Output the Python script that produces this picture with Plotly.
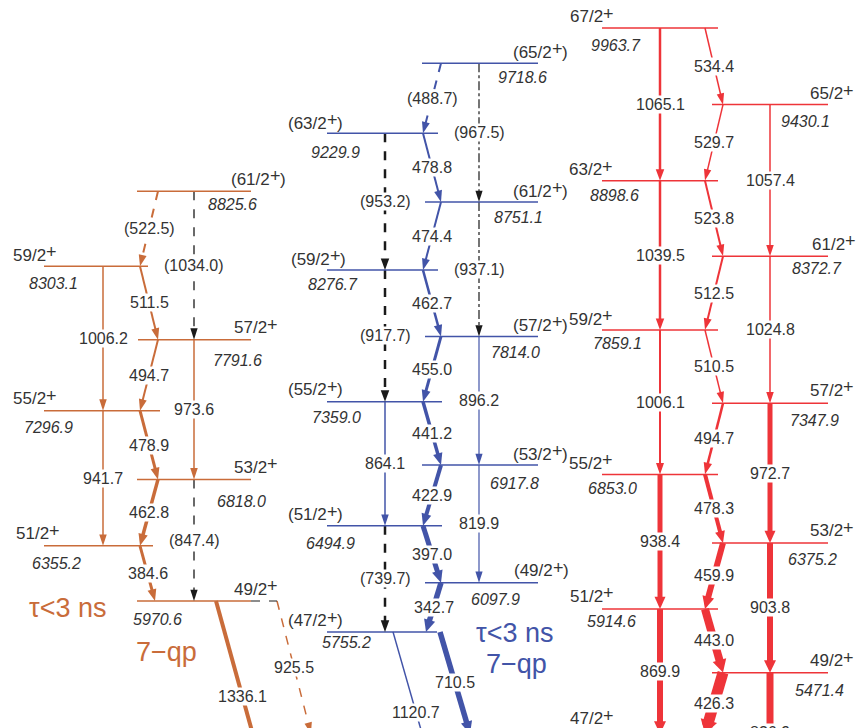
import math
import plotly.graph_objects as go

# ---------------- level energies (keV) and spins ----------------
# band A (orange)
bandA_E = [8825.6, 8303.1, 7791.6, 7296.9, 6818.0, 6355.2, 5970.6]
bandA_J = ["(61/2+)", "59/2+", "57/2+", "55/2+", "53/2+", "51/2+", "49/2+"]
# band B (blue)
bandB_E = [9718.6, 9229.9, 8751.1, 8276.7, 7814.0, 7359.0, 6917.8, 6494.9, 6097.9, 5755.2]
bandB_J = ["(65/2+)", "(63/2+)", "(61/2+)", "(59/2+)", "(57/2+)",
           "(55/2+)", "(53/2+)", "(51/2+)", "(49/2+)", "(47/2+)"]
# band C (red)
bandC_E = [9963.7, 9430.1, 8898.6, 8372.7, 7859.1, 7347.9, 6853.0, 6375.2, 5914.6, 5471.4, 5045.1]
bandC_J = ["67/2+", "65/2+", "63/2+", "61/2+", "59/2+", "57/2+",
           "55/2+", "53/2+", "51/2+", "49/2+", "47/2+"]

# ---------------- gamma transitions: initial level, E_gamma, tentative ----------------
gamA_from = [8825.6, 8825.6, 8303.1, 8303.1, 7791.6, 7791.6, 7296.9, 7296.9,
             6818.0, 6818.0, 6355.2, 5970.6, 5970.6]
gamA_E = [522.5, 1034.0, 511.5, 1006.2, 494.7, 973.6, 478.9, 941.7,
          462.8, 847.4, 384.6, 1336.1, 925.5]
gamA_tent = [1, 1, 0, 0, 0, 0, 0, 0, 0, 1, 0, 0, 0]

gamB_from = [9718.6, 9718.6, 9229.9, 9229.9, 8751.1, 8751.1, 8276.7, 8276.7,
             7814.0, 7814.0, 7359.0, 7359.0, 6917.8, 6917.8, 6494.9, 6494.9,
             6097.9, 5755.2, 5755.2]
gamB_E = [488.7, 967.5, 478.8, 953.2, 474.4, 937.1, 462.7, 917.7, 455.0, 896.2,
          441.2, 864.1, 422.9, 819.9, 397.0, 739.7, 342.7, 1120.7, 710.5]
gamB_tent = [1, 1, 0, 1, 0, 1, 0, 1, 0, 0, 0, 0, 0, 0, 0, 1, 0, 0, 0]

gamC_from = [9963.7, 9963.7, 9430.1, 9430.1, 8898.6, 8898.6, 8372.7, 8372.7,
             7859.1, 7859.1, 7347.9, 7347.9, 6853.0, 6853.0, 6375.2, 6375.2,
             5914.6, 5914.6, 5471.4, 5471.4]
gamC_E = [534.4, 1065.1, 529.7, 1057.4, 523.8, 1039.5, 512.5, 1024.8, 510.5, 1006.1,
          494.7, 972.7, 478.3, 938.4, 459.9, 903.8, 443.0, 869.9, 426.3, 836.9]
gamC_tent = [0] * len(gamC_E)

# ---------------- styling ----------------
ORANGE = "#c96c3a"
BLUE = "#4254a8"
RED = "#ee3439"
BLACK = "#1a1a1a"
INK = "#333333"
FONT = "Liberation Sans, Arial, sans-serif"
LABEL_SIZE = 16
SPIN_SIZE = 17
PLUS_SIZE = 18

W, H = 856, 728
PX_PER_KEV = 0.1435           # vertical energy scale
E_REF, PX_REF = 5970.6, 601   # energy sitting at a given pixel row
E_TOP = E_REF + PX_REF / PX_PER_KEV
E_BOT = E_REF - (H - PX_REF) / PX_PER_KEV

# level drawing layout: x0, x1, spin side, spin x, spin lift (px), energy x, energy drop (px)
levA_geo = [(137, 251, "R", 285, 12, 232, 13), (44, 148, "L", 12, 11, 53, 17),
            (138, 251, "R", 277, 12, 237, 21), (44, 160, "L", 12, 12, 48, 17),
            (137, 251, "R", 277, 12, 241, 22), (44, 153, "L", 15, 12, 56, 18),
            (137, 251, "R", 277, 12, 157, 18)]
levB_geo = [(422, 538, "R", 567, 11, 522, 14), (327, 438, "L", 287, 10, 335, 19),
            (425, 538, "R", 567, 11, 518, 15), (327, 438, "L", 290, 11, 333, 14),
            (425, 538, "R", 567, 11, 515, 16), (327, 442, "L", 287, 12, 336, 16),
            (422, 538, "R", 567, 11, 514, 18), (327, 442, "L", 287, 11, 330, 18),
            (425, 538, "R", 568, 12, 495, 17), (327, 437, "L", 287, 11, 346, 11)]
levC_geo = [(602, 718, "L", 569, 11, 616, 18), (712, 828, "R", 853, 11, 805, 17),
            (602, 718, "L", 568, 11, 614, 15), (712, 828, "R", 855, 12, 817, 12),
            (602, 718, "L", 568, 11, 617, 13), (712, 828, "R", 853, 13, 814, 17),
            (602, 718, "L", 568, 11, 612, 14), (712, 828, "R", 853, 12, 812, 17),
            (602, 718, "L", 569, 13, 611, 12), (712, 828, "R", 853, 12, 819, 18),
            (602, 718, "L", 569, 15, None, 0)]

# transition drawing layout: x at top, x at bottom, line width, dash, colour
gamA_geo = [(158, 140, 2, "dash", ORANGE), (194, 194, 1.3, "dash", BLACK),
            (140, 158, 2, "solid", ORANGE), (103, 103, 1.5, "solid", ORANGE),
            (158, 140, 2, "solid", ORANGE), (194, 194, 1.5, "solid", ORANGE),
            (140, 158, 3, "solid", ORANGE), (103, 103, 1.5, "solid", ORANGE),
            (158, 140, 3.5, "solid", ORANGE), (194, 194, 1.3, "dash", BLACK),
            (140, 155, 3, "solid", ORANGE), (216, 269, 4, "solid", ORANGE),
            (277, 311, 1.5, "dash", ORANGE)]
gamB_geo = [(441, 423, 2, "dash", BLUE), (479, 479, 1.2, "dashdot", BLACK),
            (423, 441, 2, "solid", BLUE), (385, 385, 2.5, "dash", BLACK),
            (441, 423, 2, "solid", BLUE), (479, 479, 1.2, "dashdot", BLACK),
            (423, 441, 2.5, "solid", BLUE), (385, 385, 2.5, "dash", BLACK),
            (441, 423, 3, "solid", BLUE), (479, 479, 1.2, "solid", BLUE),
            (423, 441, 3.5, "solid", BLUE), (385, 385, 1.5, "solid", BLUE),
            (441, 423, 4, "solid", BLUE), (479, 479, 1.2, "solid", BLUE),
            (423, 441, 5, "solid", BLUE), (385, 385, 2.5, "dash", BLACK),
            (441, 426, 5.5, "solid", BLUE), (393, 439, 1.5, "solid", BLUE),
            (440, 470, 5.5, "solid", BLUE)]
gamC_geo = [(705, 723, 1.5, "solid", RED), (660, 660, 2.5, "solid", RED),
            (723, 705, 1.5, "solid", RED), (770, 770, 1.5, "solid", RED),
            (705, 723, 2, "solid", RED), (660, 660, 2.5, "solid", RED),
            (723, 705, 2, "solid", RED), (770, 770, 1.5, "solid", RED),
            (705, 723, 1.5, "solid", RED), (660, 660, 2, "solid", RED),
            (723, 705, 2.5, "solid", RED), (770, 770, 5, "solid", RED),
            (705, 723, 4, "solid", RED), (660, 660, 5, "solid", RED),
            (723, 705, 6, "solid", RED), (770, 770, 6, "solid", RED),
            (705, 723, 8, "solid", RED), (660, 660, 6, "solid", RED),
            (723, 705, 11, "solid", RED), (770, 770, 7, "solid", RED)]

# Arial / Liberation Sans advance widths (em) for the spin strings
ADV = {**{d: 0.556 for d in "0123456789"}, "/": 0.278, "(": 0.333, ")": 0.333, "+": 0.584}

fig = go.Figure()


def text_w(s, size):
    return sum(ADV[c] for c in s) * size


def anchor(e, shift):
    """Keep annotation anchors inside the visible energy range, compensating in px."""
    lo = E_BOT + 1.0
    if e < lo:
        return lo, shift - (lo - e) * PX_PER_KEV
    return e, shift


def label(x, e, shift, text, size, xanchor="center", bg=None, italic=False, color=INK):
    ya, ys = anchor(e, shift)
    fig.add_annotation(x=x, y=ya, yshift=ys, text=text, showarrow=False,
                       xanchor=xanchor, yanchor="middle", borderpad=0,
                       bgcolor=bg if bg else "rgba(0,0,0,0)",
                       font=dict(family=FONT, size=size, color=color,
                                 style="italic" if italic else "normal"))


def spin_label(j, e, side, sx, sdy):
    k = j.index("+")
    pre, post = j[:k], j[k + 1:]
    w_pre, w_plus = text_w(pre, SPIN_SIZE), text_w("+", PLUS_SIZE)
    total = w_pre + w_plus + text_w(post, SPIN_SIZE)
    x = sx if side == "L" else sx - total
    label(x, e, sdy, pre, SPIN_SIZE, xanchor="left")
    label(x + w_pre, e, sdy + 3, "+", PLUS_SIZE, xanchor="left")
    if post:
        label(x + w_pre + w_plus, e, sdy, post, SPIN_SIZE, xanchor="left")


def add_levels(E, J, geo, color):
    for e, j, (x0, x1, side, sx, sdy, ex, edy) in zip(E, J, geo):
        fig.add_trace(go.Scatter(x=[x0, x1], y=[e, e], mode="lines",
                                 line=dict(color=color, width=1.5),
                                 hoverinfo="skip", showlegend=False))
        spin_label(j, e, side, sx, sdy)
        if ex is not None:
            label(ex, e, -edy, f"{e:.1f}", LABEL_SIZE, italic=True)


def to_px(x, e):
    return x, -e * PX_PER_KEV


def to_data(px, py):
    return px, -py / PX_PER_KEV


def add_gammas(E_from, Eg, tent, geo):
    for ei, eg, t, (xa, xb, w, dash, col) in zip(E_from, Eg, tent, geo):
        ef = ei - eg
        # direction of the transition in screen pixels
        ax, ay = to_px(xa, ei)
        bx, by = to_px(xb, ef)
        L = math.hypot(bx - ax, by - ay)
        ux, uy = (bx - ax) / L, (by - ay) / L
        ah = 11 + 0.25 * w          # arrowhead length (px)
        aw = 6 + w                  # arrowhead base width (px)
        # shaft stops inside the arrowhead so its corners stay hidden
        sx, sy = to_data(bx - ux * ah * 0.6, by - uy * ah * 0.6)
        fig.add_trace(go.Scatter(x=[xa, sx], y=[ei, sy], mode="lines",
                                 line=dict(color=col, width=w, dash=dash),
                                 hoverinfo="skip", showlegend=False))
        cx, cy = bx - ux * ah, by - uy * ah
        px_, py_ = -uy, ux
        pts = [(bx, by), (cx + px_ * aw / 2, cy + py_ * aw / 2), (cx - px_ * aw / 2, cy - py_ * aw / 2)]
        path = "M " + " L ".join(f"{X:.3f},{Y:.3f}" for X, Y in (to_data(*p) for p in pts)) + " Z"
        fig.add_shape(type="path", path=path, xref="x", yref="y",
                      fillcolor=col, line=dict(width=0), layer="above")
        txt = f"({eg:.1f})" if t else f"{eg:.1f}"
        label((xa + xb) / 2, ei - eg / 2, 0, txt, LABEL_SIZE, bg="white")


add_gammas(gamA_from, gamA_E, gamA_tent, gamA_geo)
add_gammas(gamB_from, gamB_E, gamB_tent, gamB_geo)
add_gammas(gamC_from, gamC_E, gamC_tent, gamC_geo)
add_levels(bandA_E, bandA_J, levA_geo, ORANGE)
add_levels(bandB_E, bandB_J, levB_geo, BLUE)
add_levels(bandC_E, bandC_J, levC_geo, RED)

# dashed continuation of the 49/2+ bandhead towards the 925.5 branch
fig.add_trace(go.Scatter(x=[251, 277], y=[bandA_E[-1], bandA_E[-1]], mode="lines",
                         line=dict(color=BLACK, width=1, dash="dash"),
                         hoverinfo="skip", showlegend=False))

# band-head lifetime / configuration tags
tags = [(67, 608, "τ&lt;3 ns", ORANGE), (166, 652, "7−qp", ORANGE),
        (514, 633, "τ&lt;3 ns", BLUE), (516, 664, "7−qp", BLUE)]
for tx, ty, tt, tc in tags:
    label(tx, E_REF - (ty - PX_REF) / PX_PER_KEV, 0, tt, 27, color=tc)

fig.update_layout(
    width=W, height=H, margin=dict(l=0, r=0, t=0, b=0),
    paper_bgcolor="white", plot_bgcolor="white", showlegend=False,
    xaxis=dict(range=[0, W], visible=False, fixedrange=True),
    yaxis=dict(range=[E_BOT, E_TOP], visible=False, fixedrange=True),
)

fig.write_html("out.html")
